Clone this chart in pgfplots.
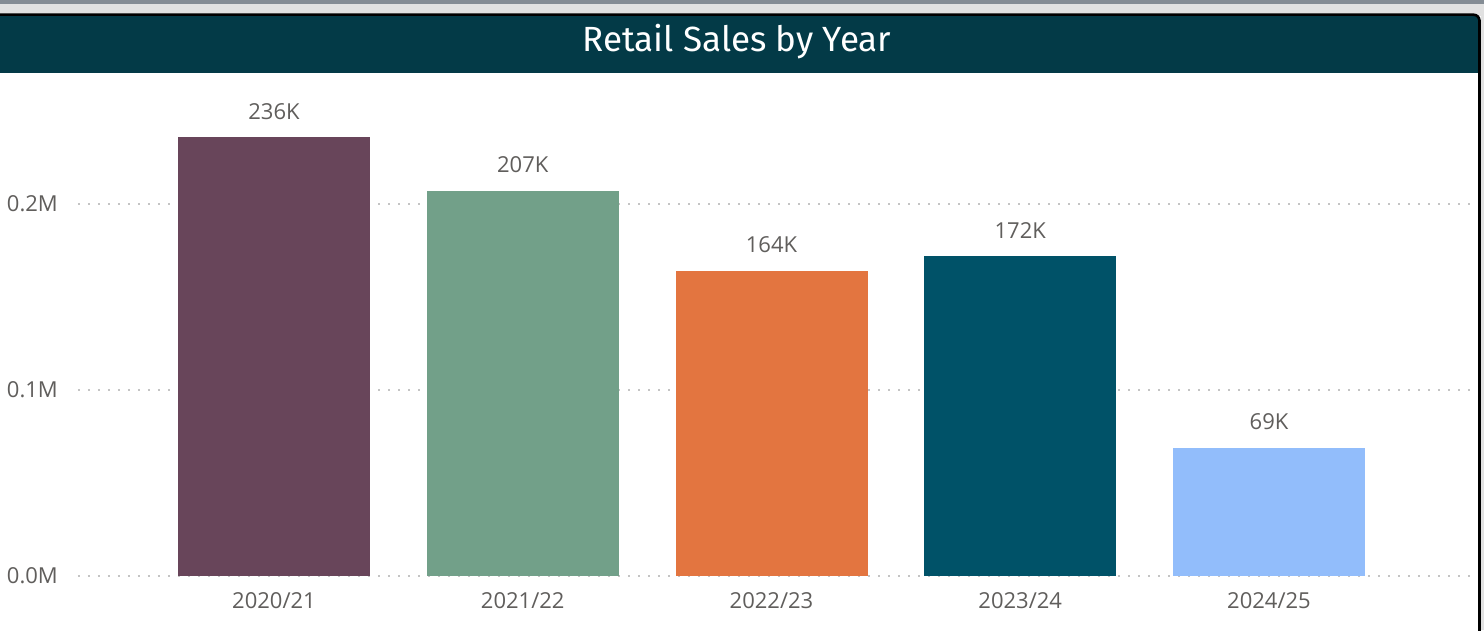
\documentclass[border=0pt]{standalone}
\usepackage{pgfplots}
\pgfplotsset{compat=1.18}
\usepackage{fontspec}
\setmainfont{Open Sans}
\newfontfamily\titlefont{Fira Sans}

\definecolor{titlec}{HTML}{033A47}
\definecolor{frameg}{HTML}{E1E1E1}
\definecolor{topg}{HTML}{848C94}
\definecolor{labelc}{HTML}{605E5C}
\definecolor{gridc}{HTML}{C4C4C4}
\definecolor{c1}{HTML}{68455A}
\definecolor{c2}{HTML}{72A089}
\definecolor{c3}{HTML}{E37540}
\definecolor{c4}{HTML}{005268}
\definecolor{c5}{HTML}{92BDFB}

\begin{document}
\begin{tikzpicture}[x=1pt,y=1pt]
\useasboundingbox (0,0) rectangle (1484,630);
\begin{scope}
  \clip (0,0) rectangle (1484,630);
  \fill[white] (0,0) rectangle (1484,630);
  % frame of the report page
  \fill[frameg] (0,614) rectangle (1484,626);
  \fill[topg] (0,626) rectangle (1484,630);
  \fill[frameg] (1481,0) rectangle (1484,614);
  \fill[titlec, rounded corners=6pt] (-10,590) -- (-10,615) -- (1479,615) -- (1479,590) -- cycle;
  \fill[titlec] (-10,557) rectangle (1479,600);
  \draw[black, line width=2.6pt, rounded corners=6pt] (-10,615.3) -- (1479.5,615.3) -- (1479.5,-10);
\end{scope}
\node[anchor=base, text=white, font=\titlefont\fontsize{35}{40}\selectfont] at (737,578) {Retail Sales by Year};

\begin{axis}[
    at={(78pt,54pt)}, anchor=south west,
    scale only axis, width=1392pt, height=502.2pt,
    ybar, bar width=192pt, bar shift=0pt,
    xmin=-0.788, xmax=4.808, ymin=0, ymax=270,
    xtick={0,1,2,3,4},
    xticklabels={2020/21,2021/22,2022/23,2023/24,2024/25},
    ytick={0,100,200}, yticklabels={0.0M,0.1M,0.2M},
    axis line style={draw=none}, major tick length=0pt,
    ymajorgrids,
    major grid style={draw=gridc, line width=2pt, dash pattern=on 2pt off 8pt},
    /pgf/number format/assume math mode=true,
    tick label style={font=\fontsize{22}{26}\selectfont, text=labelc, inner sep=0pt},
    yticklabel style={anchor=east, xshift=-20pt},
    xticklabel style={anchor=base, yshift=-32pt},
    nodes near coords={\pgfmathprintnumber[assume math mode=true]{\pgfplotspointmeta}K},
    every node near coord/.append style={font=\fontsize{22}{26}\selectfont, text=labelc, anchor=base, yshift=18pt, inner sep=0pt},
]
\addplot[fill=c1, draw=none] coordinates {(0,236)};
\addplot[fill=c2, draw=none] coordinates {(1,207)};
\addplot[fill=c3, draw=none] coordinates {(2,164)};
\addplot[fill=c4, draw=none] coordinates {(3,172)};
\addplot[fill=c5, draw=none] coordinates {(4,69)};
\end{axis}
\end{tikzpicture}
\end{document}
